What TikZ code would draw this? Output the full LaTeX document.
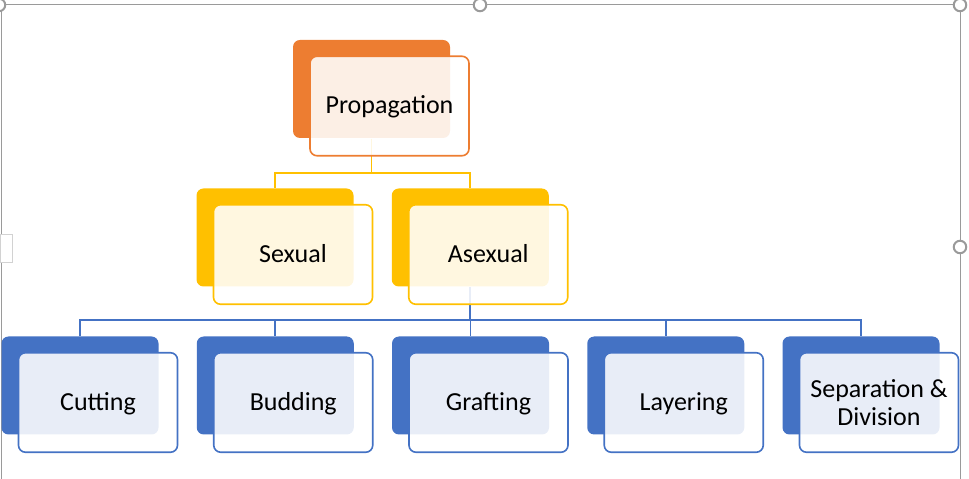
\documentclass[tikz,border=0pt]{standalone}
\usepackage{fontspec}
\setmainfont{Carlito}
\usetikzlibrary{positioning}
\definecolor{sorange}{HTML}{ED7D31}
\definecolor{sgold}{HTML}{FFC000}
\definecolor{sblue}{HTML}{4472C4}
\definecolor{handle}{HTML}{9A9A9A}
\begin{document}
\begin{tikzpicture}[x=1pt,y=1pt,node distance=195.25pt,line width=1.6pt]
\tikzstyle{back}=[rectangle,rounded corners=7pt,minimum width=157pt,minimum height=98pt,inner sep=0pt]
\tikzstyle{front}=[rectangle,rounded corners=7pt,draw,line width=1.6pt,fill=white,fill opacity=0.88,text opacity=1,text=black,minimum width=159pt,minimum height=99.5pt,inner sep=2pt,align=center,font=\fontsize{26}{28}\selectfont]
\tikzstyle{oneline}=[text height=21pt,text depth=5pt]
\tikzstyle{frame}=[draw=handle,line width=1pt]
\tikzstyle{grip}=[circle,draw=handle,fill=white,line width=2pt,minimum size=12.5pt,inner sep=0pt]
\useasboundingbox (0,0) rectangle (969,479);
\draw[frame] (1,0) -- (1,474) -- (960,474) -- (960,0);
\node[draw=gray!35,line width=0.8pt,fill=white,minimum width=12pt,minimum height=28pt,inner sep=0pt] (tab) at (6,231) {};
\node[grip] (g1) at (-1,474) {};
\node[grip] (g2) at (480,474) {};
\node[grip] (g3) at (960,474) {};
\node[grip] (g4) at (960,232) {};
\node[back,fill=sorange] (prop) at (371.5,390) {};
\node[back,fill=sgold] (sex) at (275,241.5) {};
\node[back,fill=sgold][right of=sex] (asex) {};
\node[back,fill=sblue] (cut) at (80,93.5) {};
\node[back,fill=sblue][right of=cut] (bud) {};
\node[back,fill=sblue][right of=bud] (graft) {};
\node[back,fill=sblue][right of=graft] (layer) {};
\node[back,fill=sblue][right of=layer] (sep) {};
\draw[sgold] (prop.south) -- ++(0,-34) -| (sex.north);
\draw[sgold] (prop.south) -- ++(0,-34) -| (asex.north);
\foreach \n in {cut,bud,graft,layer,sep}
  \draw[sblue] (asex.south) -- ++(0,-33) -| (\n.north);
\node[front,oneline,draw=sorange] (propF) at ([xshift=18pt,yshift=-17pt]prop) {Propagation};
\node[front,oneline,draw=sgold] (sexF) at ([xshift=18pt,yshift=-17pt]sex) {Sexual};
\node[front,oneline,draw=sgold] (asexF) at ([xshift=18pt,yshift=-17pt]asex) {Asexual};
\node[front,oneline,draw=sblue] (cutF) at ([xshift=18pt,yshift=-17pt]cut) {Cutting};
\node[front,oneline,draw=sblue] (budF) at ([xshift=18pt,yshift=-17pt]bud) {Budding};
\node[front,oneline,draw=sblue] (graftF) at ([xshift=18pt,yshift=-17pt]graft) {Grafting};
\node[front,oneline,draw=sblue] (layerF) at ([xshift=18pt,yshift=-17pt]layer) {Layering};
\node[front,draw=sblue] (sepF) at ([xshift=18pt,yshift=-17pt]sep) {Separation \&\\Division};
\end{tikzpicture}
\end{document}
